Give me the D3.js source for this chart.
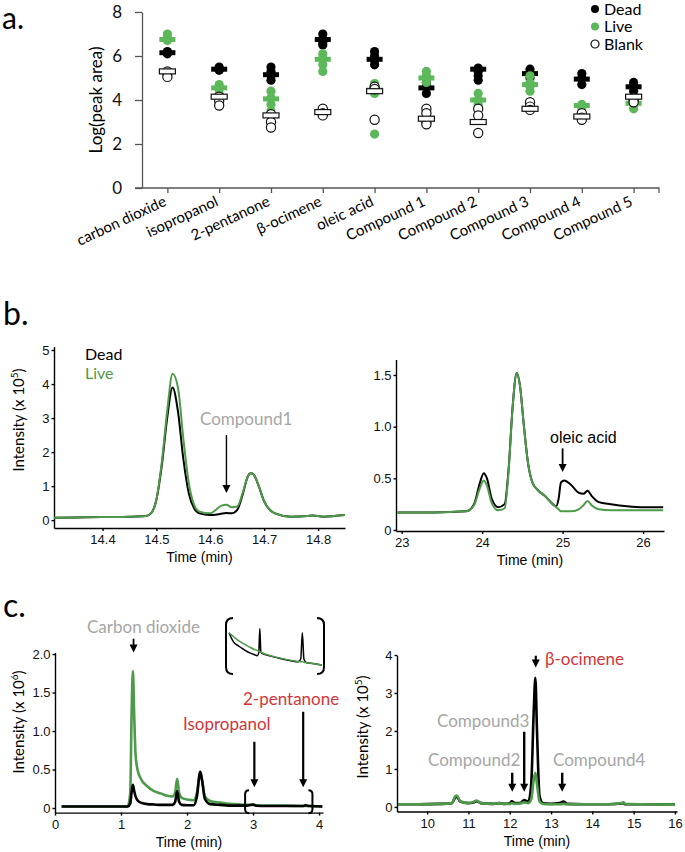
<!DOCTYPE html>
<html>
<head>
<meta charset="utf-8">
<script src="https://d3js.org/d3.v7.min.js"></script>
<style>
  body { margin: 0; background: #fff; }
  text { font-family: Lato, "Open Sans", sans-serif; }
  .arial text, text.arial { font-family: "Liberation Sans", Arial, sans-serif; }
</style>
</head>
<body>
<div id="chart"></div>
<script>
// ---------- panel a data ----------
var categories = ['carbon dioxide', 'isopropanol', '2-pentanone', 'β-ocimene', 'oleic acid',
  'Compound 1', 'Compound 2', 'Compound 3', 'Compound 4', 'Compound 5'];
var deadPts = [[6.2, 6.1, 6.15], [5.5, 5.4, 5.35], [5.5, 5.3, 5.1, 4.9], [7.0, 6.8, 6.6, 6.5], [6.2, 6.0, 5.8, 5.6],
  [4.8, 4.6, 4.3], [5.45, 5.3, 5.1, 4.9], [5.4, 5.2, 5.0], [5.2, 5.0, 4.7], [4.8, 4.6, 4.4]];
var deadMean = [6.15, 5.4, 5.15, 6.75, 5.85, 4.55, 5.4, 5.2, 4.95, 4.6];
var livePts = [[7.0, 6.85, 6.7], [4.7, 4.5, 4.3], [4.4, 4.1, 3.8, 3.5], [6.1, 5.9, 5.6, 5.3], [4.75, 4.5, 4.3, 2.45],
  [5.3, 5.1, 4.8], [4.3, 4.0, 3.8], [5.1, 4.8, 4.6, 4.4], [3.8, 3.6, 3.4], [4.0, 3.8, 3.6]];
var liveMean = [6.75, 4.55, 4.05, 5.85, 4.45, 5.0, 4.0, 4.7, 3.75, 3.85];
var blankPts = [[5.3, 5.2, 5.05], [4.15, 3.95, 3.75], [3.35, 3.0, 2.75], [3.6, 3.4, 3.3], [4.6, 4.5, 3.1],
  [3.6, 3.4, 3.0, 2.9], [3.6, 3.3, 2.5], [3.9, 3.7, 3.55], [3.4, 3.2, 3.1], [4.1, 4.0, 3.9]];
var blankMean = [5.3, 4.15, 3.3, 3.45, 4.4, 3.15, 3.0, 3.6, 3.25, 4.15];
var yTicksA = [0, 2, 4, 6, 8];

// ---------- panel b data ----------
var bLeftTime = [14.31, 14.35, 14.40, 14.45, 14.48, 14.49, 14.50, 14.51, 14.52, 14.53, 14.54, 14.55, 14.56, 14.57, 14.58,
  14.60, 14.61, 14.62, 14.63, 14.64, 14.65, 14.66, 14.67, 14.675, 14.68, 14.69, 14.70, 14.72, 14.75, 14.78, 14.79, 14.81, 14.83, 14.85];
var bLeftDead = [0.07, 0.08, 0.09, 0.10, 0.12, 0.2, 0.6, 1.6, 3.0, 3.9, 3.2, 1.8, 0.8, 0.35, 0.2,
  0.15, 0.16, 0.19, 0.21, 0.2, 0.3, 0.75, 1.3, 1.38, 1.35, 1.0, 0.55, 0.2, 0.1, 0.12, 0.14, 0.1, 0.12, 0.15];
var bLeftLive = [0.07, 0.08, 0.09, 0.10, 0.12, 0.2, 0.6, 1.7, 3.2, 4.3, 3.9, 2.4, 1.1, 0.45, 0.25,
  0.2, 0.3, 0.42, 0.45, 0.38, 0.4, 0.8, 1.3, 1.38, 1.35, 1.0, 0.55, 0.2, 0.1, 0.12, 0.14, 0.1, 0.12, 0.15];

var bRightTime = [22.95, 23.4, 23.8, 23.9, 23.97, 24.02, 24.06, 24.12, 24.2, 24.28, 24.33, 24.38, 24.43, 24.47, 24.52,
  24.57, 24.63, 24.7, 24.78, 24.84, 24.92, 24.95, 24.98, 25.02, 25.1, 25.2, 25.26, 25.31, 25.36, 25.45, 25.6, 25.8, 26.0, 26.25];
var bRightDead = [0.17, 0.17, 0.18, 0.25, 0.45, 0.55, 0.5, 0.3, 0.22, 0.25, 0.6, 1.2, 1.52, 1.4, 1.0,
  0.65, 0.45, 0.38, 0.33, 0.28, 0.23, 0.3, 0.46, 0.48, 0.44, 0.36, 0.35, 0.38, 0.33, 0.27, 0.25, 0.23, 0.22, 0.22];
var bRightLive = [0.17, 0.17, 0.18, 0.24, 0.4, 0.48, 0.43, 0.26, 0.19, 0.21, 0.58, 1.2, 1.52, 1.4, 1.0,
  0.65, 0.45, 0.38, 0.33, 0.28, 0.22, 0.2, 0.18, 0.18, 0.18, 0.2, 0.24, 0.28, 0.24, 0.2, 0.19, 0.19, 0.19, 0.19];

// ---------- panel c data ----------
var cLeftTime = [0.1, 0.5, 1.0, 1.10, 1.14, 1.16, 1.18, 1.20, 1.22, 1.25, 1.30, 1.40, 1.50, 1.60, 1.70, 1.78, 1.82, 1.85, 1.88,
  1.92, 2.0, 2.1, 2.15, 2.20, 2.23, 2.27, 2.35, 2.5, 2.7, 2.9, 3.0, 3.05, 3.2, 3.5, 3.75, 3.8, 3.85, 4.05];
var cLeftLive = [0.02, 0.02, 0.02, 0.02, 0.2, 1.2, 1.78, 1.2, 0.7, 0.5, 0.38, 0.28, 0.22, 0.19, 0.16, 0.15, 0.2, 0.38, 0.2,
  0.13, 0.11, 0.1, 0.2, 0.47, 0.35, 0.15, 0.09, 0.07, 0.05, 0.04, 0.04, 0.035, 0.03, 0.03, 0.025, 0.025, 0.025, 0.02];
var cLeftDead = [0.02, 0.02, 0.02, 0.02, 0.06, 0.2, 0.3, 0.22, 0.15, 0.1, 0.07, 0.05, 0.045, 0.04, 0.04, 0.04, 0.08, 0.22, 0.08,
  0.04, 0.035, 0.035, 0.15, 0.47, 0.35, 0.12, 0.05, 0.04, 0.03, 0.03, 0.045, 0.03, 0.025, 0.025, 0.025, 0.035, 0.025, 0.02];

// inset (zoom of bracketed region, arbitrary units)
var insetTime = [2.42, 2.5, 2.6, 2.7, 2.8, 2.9, 2.95, 2.98, 3.0, 3.02, 3.05, 3.2, 3.4, 3.6, 3.72, 3.77, 3.8, 3.83, 3.88, 4.0, 4.17];
var insetLive = [0.8, 0.72, 0.62, 0.55, 0.48, 0.42, 0.4, 0.38, 0.37, 0.36, 0.34, 0.28, 0.22, 0.17, 0.15, 0.14, 0.14, 0.13, 0.12, 0.1, 0.07];
var insetDead = [0.8, 0.6, 0.5, 0.42, 0.35, 0.3, 0.28, 0.35, 0.9, 0.35, 0.33, 0.27, 0.21, 0.16, 0.14, 0.2, 0.8, 0.2, 0.12, 0.1, 0.07];

var cRightTime = [9.3, 9.8, 10.3, 10.6, 10.68, 10.72, 10.8, 11.0, 11.1, 11.2, 11.3, 11.6, 11.75, 11.85, 12.0, 12.05, 12.12,
  12.25, 12.35, 12.45, 12.52, 12.58, 12.62, 12.66, 12.72, 12.8, 13.0, 13.2, 13.3, 13.4, 13.8, 14.4, 14.7, 14.75, 14.8, 15.2, 16.0];
var cRightLive = [0.07, 0.07, 0.08, 0.1, 0.28, 0.3, 0.15, 0.1, 0.12, 0.17, 0.1, 0.08, 0.1, 0.08, 0.08, 0.1, 0.08,
  0.09, 0.12, 0.1, 0.2, 0.7, 0.9, 0.6, 0.15, 0.08, 0.07, 0.07, 0.08, 0.07, 0.07, 0.07, 0.1, 0.12, 0.08, 0.07, 0.06];
var cRightDead = [0.07, 0.07, 0.08, 0.1, 0.25, 0.27, 0.14, 0.1, 0.11, 0.15, 0.1, 0.08, 0.1, 0.08, 0.1, 0.15, 0.1,
  0.1, 0.18, 0.14, 0.6, 2.5, 3.4, 2.0, 0.3, 0.1, 0.08, 0.1, 0.14, 0.08, 0.07, 0.07, 0.09, 0.1, 0.07, 0.07, 0.06];

var GREEN_A = '#5cb85a', GREEN = '#4d9a4a', GREY = '#a6a6a6', RED = '#d2363a';

var svg = d3.select('#chart').append('svg').attr('width', 685).attr('height', 852);

// ================= panel a =================
var xA = d3.scalePoint().domain(categories).range([142, 659]).padding(0.49);
var yA = d3.scaleLinear().domain([0, 8]).range([188, 12]);

svg.append('text').attr('x', 2).attr('y', 29).attr('font-size', 30).text('a.');

var gA = svg.append('g');
var yAxA = gA.append('g').attr('transform', 'translate(142,0)')
  .call(d3.axisLeft(yA).tickValues(yTicksA).tickSize(7).tickPadding(13).tickSizeOuter(0));
var xAxA = gA.append('g').attr('transform', 'translate(0,188)')
  .call(d3.axisBottom(xA).tickSize(5).tickSizeOuter(5).tickFormat(''));
[yAxA, xAxA].forEach(function(a) {
  a.selectAll('path,line').attr('stroke', '#555').attr('stroke-width', 1.3);
  a.selectAll('text').attr('font-size', 17).attr('fill', '#111').style('font-family', 'Lato');
});
xAxA.select('.domain').attr('d', 'M135,0H659V5');

gA.append('text').attr('transform', 'translate(102,100) rotate(-90)')
  .attr('text-anchor', 'middle').attr('font-size', 17).text('Log(peak area)');

gA.selectAll('.xlab').data(categories).enter().append('text')
  .attr('transform', function(d) { return 'translate(' + xA(d) + ',205) rotate(-25)'; })
  .attr('text-anchor', 'end').attr('font-size', 15).text(function(d) { return d; });

function drawGroup(pts, means, fill, stroke, barFill) {
  categories.forEach(function(c, i) {
    gA.selectAll(null).data(pts[i]).enter().append('circle')
      .attr('cx', xA(c)).attr('cy', function(d) { return yA(d); }).attr('r', 4.6)
      .attr('fill', fill).attr('stroke', stroke).attr('stroke-width', 1.2);
  });
  gA.selectAll(null).data(means).enter().append('rect')
    .attr('x', function(d, i) { return xA(categories[i]) - 8; })
    .attr('y', function(d) { return yA(d) - 2.5; })
    .attr('width', 16).attr('height', 5)
    .attr('fill', barFill).attr('stroke', stroke === 'none' ? 'none' : '#111').attr('stroke-width', 1.2);
}
drawGroup(deadPts, deadMean, '#000', 'none', '#000');
drawGroup(livePts, liveMean, GREEN_A, 'none', GREEN_A);
drawGroup(blankPts, blankMean, '#fff', '#111', '#fff');

var legend = [['Dead', '#000', 'none'], ['Live', GREEN_A, 'none'], ['Blank', '#fff', '#111']];
var lg = svg.append('g').selectAll('g').data(legend).enter().append('g')
  .attr('transform', function(d, i) { return 'translate(595,' + (9 + i * 17.5) + ')'; });
lg.append('circle').attr('r', 4).attr('fill', function(d) { return d[1]; })
  .attr('stroke', function(d) { return d[2]; }).attr('stroke-width', 1.2);
lg.append('text').attr('x', 9).attr('y', 5.5).attr('font-size', 16).text(function(d) { return d[0]; });

// ================= chromatogram helper =================
function chrom(cfg) {
  var x = d3.scaleLinear().domain(cfg.xDomain).range(cfg.xRange);
  var y = d3.scaleLinear().domain(cfg.yDomain).range(cfg.yRange);
  var g = svg.append('g');
  var xa = g.append('g').attr('class', 'arial').attr('transform', 'translate(0,' + cfg.yRange[0] + ')')
    .call(d3.axisBottom(x).tickValues(cfg.xTicks).tickSize(3).tickPadding(4).tickSizeOuter(0).tickFormat(cfg.xFmt || d3.format('')));
  var ya = g.append('g').attr('class', 'arial').attr('transform', 'translate(' + cfg.xRange[0] + ',0)')
    .call(d3.axisLeft(y).tickValues(cfg.yTicks).tickSize(2.5).tickPadding(2).tickSizeOuter(0).tickFormat(cfg.yFmt));
  [xa, ya].forEach(function(a) {
    a.selectAll('path,line').attr('stroke', '#000').attr('stroke-width', 1.4);
    a.selectAll('text').attr('font-size', 13).attr('fill', '#111');
  });
  g.append('text').attr('class', 'arial').attr('x', d3.mean(cfg.xRange)).attr('y', cfg.yRange[0] + 34)
    .attr('text-anchor', 'middle').attr('font-size', 14).text('Time (min)');
  var line = d3.line().x(function(d) { return x(d[0]); }).y(function(d) { return y(d[1]); }).curve(d3.curveMonotoneX);
  cfg.series.forEach(function(s) {
    g.append('path').datum(d3.zip(cfg.time, s.values)).attr('d', line)
      .attr('fill', 'none').attr('stroke', s.color).attr('stroke-width', s.width || 2)
      .attr('stroke-linejoin', 'round');
  });
  return { x: x, y: y, g: g };
}

function arrow(g, x, yTop, yTip, w) {
  w = w || 1.8;
  g.append('line').attr('x1', x).attr('x2', x).attr('y1', yTop).attr('y2', yTip - 6)
    .attr('stroke', '#000').attr('stroke-width', w);
  g.append('path').attr('d', 'M' + (x - 4) + ',' + (yTip - 8) + 'L' + (x + 4) + ',' + (yTip - 8) + 'L' + x + ',' + yTip + 'Z')
    .attr('fill', '#000');
}

function yLabel(x, y, exp, size) {
  var t = svg.append('text').attr('transform', 'translate(' + x + ',' + y + ') rotate(-90)')
    .attr('text-anchor', 'middle').attr('font-size', size || 15);
  t.append('tspan').text('Intensity (x 10');
  t.append('tspan').attr('font-size', 10).attr('dy', -6).text(exp);
  t.append('tspan').attr('dy', 6).text(')');
}

var fmt1 = function(d) { return d === 0 ? '0' : d3.format('.1f')(d); };

// ================= panel b =================
svg.append('text').attr('x', 3).attr('y', 325).attr('font-size', 32).text('b.');

var bL = chrom({
  xDomain: [14.31, 14.85], xRange: [54, 345], xTicks: [14.4, 14.5, 14.6, 14.7, 14.8], xFmt: d3.format('.1f'),
  yDomain: [-0.23, 5.1], yRange: [528, 346.6], yTicks: [0, 1, 2, 3, 4, 5], yFmt: d3.format('d'),
  time: bLeftTime,
  series: [{ values: bLeftDead, color: '#000', width: 2 }, { values: bLeftLive, color: GREEN, width: 2 }]
});
yLabel(24, 420, '5');
svg.append('text').attr('x', 85).attr('y', 360).attr('font-size', 16).text('Dead');
svg.append('text').attr('x', 85).attr('y', 379).attr('font-size', 16).attr('fill', GREEN).text('Live');
svg.append('text').attr('x', 200).attr('y', 425).attr('font-size', 17).attr('fill', GREY).text('Compound1');
arrow(bL.g, bL.x(14.63), bL.y(2.5), bL.y(0.8), 1.4);

var bR = chrom({
  xDomain: [22.93, 26.26], xRange: [396, 664], xTicks: [23, 24, 25, 26], xFmt: d3.format('d'),
  yDomain: [-0.01, 1.65], yRange: [531, 359.5], yTicks: [0, 0.5, 1.0, 1.5], yFmt: fmt1,
  time: bRightTime,
  series: [{ values: bRightDead, color: '#000', width: 2 }, { values: bRightLive, color: GREEN, width: 2 }]
});
svg.append('text').attr('class', 'arial').attr('x', 550).attr('y', 443).attr('font-size', 16).text('oleic acid');
arrow(bR.g, bR.x(25.0), bR.y(0.79), bR.y(0.56), 1.8);

// ================= panel c =================
svg.append('text').attr('x', 3).attr('y', 617).attr('font-size', 32).text('c.');

var cL = chrom({
  xDomain: [0, 4.06], xRange: [55, 323], xTicks: [0, 1, 2, 3, 4], xFmt: d3.format('d'),
  yDomain: [-0.06, 2.02], yRange: [812.6, 652.5], yTicks: [0, 0.5, 1.0, 1.5, 2.0], yFmt: fmt1,
  time: cLeftTime,
  series: [{ values: cLeftLive, color: GREEN, width: 2.6 }, { values: cLeftDead, color: '#000', width: 2.6 }]
});
yLabel(24, 722, '6');
svg.append('text').attr('x', 87).attr('y', 633).attr('font-size', 17).attr('fill', GREY).text('Carbon dioxide');
arrow(cL.g, cL.x(1.19), cL.y(2.2), cL.y(2.02), 1.8);
svg.append('text').attr('x', 183).attr('y', 730).attr('font-size', 17).attr('fill', RED).text('Isopropanol');
arrow(cL.g, cL.x(3.02), cL.y(0.86), cL.y(0.27), 2.2);
svg.append('text').attr('x', 243).attr('y', 705).attr('font-size', 17).attr('fill', RED).text('2-pentanone');
arrow(cL.g, cL.x(3.76), cL.y(1.25), cL.y(0.27), 2.2);

function bracket(g, x0, x1, y0, y1, r) {
  var p = 'M' + (x0 + r) + ',' + y0 + 'Q' + x0 + ',' + y0 + ' ' + x0 + ',' + (y0 + r) +
    'L' + x0 + ',' + (y1 - r) + 'Q' + x0 + ',' + y1 + ' ' + (x0 + r) + ',' + y1 +
    'M' + (x1 - r) + ',' + y0 + 'Q' + x1 + ',' + y0 + ' ' + x1 + ',' + (y0 + r) +
    'L' + x1 + ',' + (y1 - r) + 'Q' + x1 + ',' + y1 + ' ' + (x1 - r) + ',' + y1;
  g.append('path').attr('d', p).attr('fill', 'none').attr('stroke', '#000').attr('stroke-width', 2);
}
bracket(cL.g, cL.x(2.88), cL.x(3.9), cL.y(0.23), cL.y(-0.07), 4);

// inset
var xI = d3.scaleLinear().domain([2.42, 4.17]).range([229, 322]);
var yI = d3.scaleLinear().domain([0, 1]).range([668, 624]);
var lineI = d3.line().x(function(d) { return xI(d[0]); }).y(function(d) { return yI(d[1]); }).curve(d3.curveMonotoneX);
cL.g.append('path').datum(d3.zip(insetTime, insetDead)).attr('d', lineI)
  .attr('fill', 'none').attr('stroke', '#000').attr('stroke-width', 1.5);
cL.g.append('path').datum(d3.zip(insetTime, insetLive)).attr('d', lineI)
  .attr('fill', 'none').attr('stroke', GREEN).attr('stroke-width', 1.5);
bracket(cL.g, 226, 324, 618, 674, 7);

var cR = chrom({
  xDomain: [9.27, 16.05], xRange: [397, 677], xTicks: [10, 11, 12, 13, 14, 15, 16], xFmt: d3.format('d'),
  yDomain: [-0.12, 4.0], yRange: [811.5, 655], yTicks: [0, 1, 2, 3, 4], yFmt: d3.format('d'),
  time: cRightTime,
  series: [{ values: cRightDead, color: '#000', width: 2.6 }, { values: cRightLive, color: GREEN, width: 2.6 }]
});
yLabel(368, 727, '5');
svg.append('text').attr('x', 545).attr('y', 665).attr('font-size', 17).attr('fill', RED).text('β-ocimene');
arrow(cR.g, cR.x(12.63), cR.y(3.98), cR.y(3.67), 2.2);
svg.append('text').attr('x', 437).attr('y', 727).attr('font-size', 17).attr('fill', GREY).text('Compound3');
arrow(cR.g, cR.x(12.35), cR.y(1.98), cR.y(0.4), 2.4);
svg.append('text').attr('x', 428).attr('y', 766).attr('font-size', 17).attr('fill', GREY).text('Compound2');
arrow(cR.g, cR.x(12.06), cR.y(0.9), cR.y(0.4), 2.4);
svg.append('text').attr('x', 553).attr('y', 766).attr('font-size', 17).attr('fill', GREY).text('Compound4');
arrow(cR.g, cR.x(13.27), cR.y(0.9), cR.y(0.4), 2.4);
</script>
</body>
</html>
